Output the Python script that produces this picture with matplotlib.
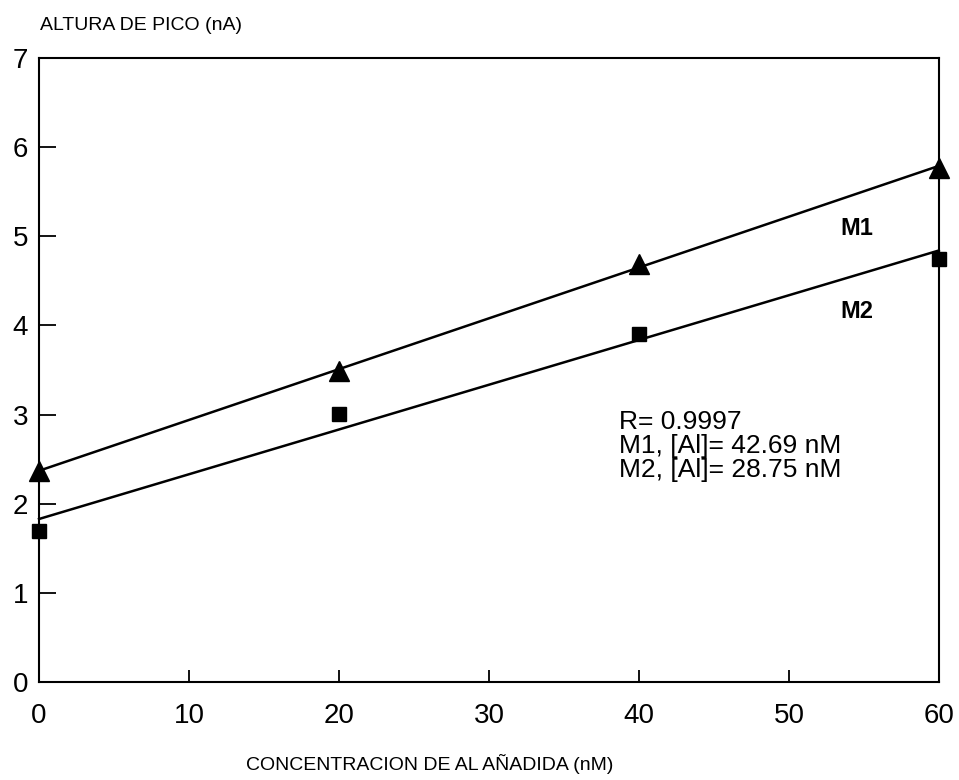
import numpy as np
import matplotlib.pyplot as plt

# datos
conc = [0, 20, 40, 60]
m1 = [2.37, 3.49, 4.69, 5.77]
m2 = [1.69, 3.01, 3.90, 4.74]
xticks = [0, 10, 20, 30, 40, 50, 60]
yticks = [0, 1, 2, 3, 4, 5, 6, 7]

plt.rcParams['font.family'] = ['Liberation Sans', 'DejaVu Sans']

fig = plt.figure(figsize=(9.59, 7.80), dpi=100)
ax = fig.add_axes([0.0407, 0.1256, 0.9383, 0.8])

# rectas de regresion
xx = np.array([0, 60])
for y in (m1, m2):
    b, a = np.polyfit(conc, y, 1)
    ax.plot(xx, a + b * xx, color='black', lw=1.8, clip_on=False)

ax.plot(conc, m1, '^', color='black', markersize=14, clip_on=False, zorder=5)
ax.plot(conc, m2, 's', color='black', markersize=9.5, clip_on=False, zorder=5)

ax.set_xlim(0, 60)
ax.set_ylim(0, 7)
ax.set_xticks(xticks)
ax.set_yticks(yticks)
ax.tick_params(axis='x', direction='in', length=9, width=1.3, pad=15, labelsize=20)
ax.tick_params(axis='y', direction='in', length=12, width=1.3, pad=8, labelsize=20)
for s in ax.spines.values():
    s.set_linewidth(1.5)

ax.text(54.5, 5.09, 'M1', fontsize=17, fontweight='bold', ha='center', va='center')
ax.text(54.5, 4.16, 'M2', fontsize=17, fontweight='bold', ha='center', va='center')
ax.text(38.7, 2.65, 'R= 0.9997\nM1, [Al]= 42.69 nM\nM2, [Al]= 28.75 nM',
        fontsize=19, ha='left', va='center', linespacing=1.0)

fig.text(0.042, 0.967, 'ALTURA DE PICO (nA)', fontsize=14, ha='left', va='center')
fig.text(0.448, 0.021, 'CONCENTRACION DE AL AÑADIDA (nM)', fontsize=14,
         ha='center', va='center')

plt.savefig('out.png', dpi=100)
